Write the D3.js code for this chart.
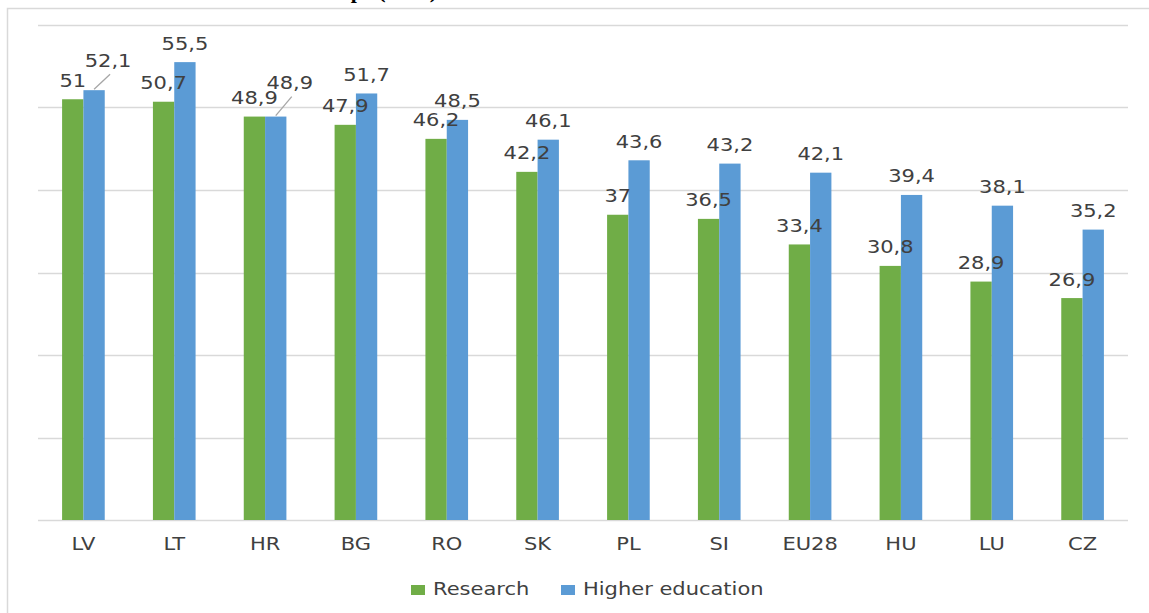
<!DOCTYPE html>
<html>
<head>
<meta charset="utf-8">
<script src="https://cdn.jsdelivr.net/npm/d3@7"></script>
<style>
  body { margin: 0; background: #fff; }
  svg { display: block; }
  text { font-family: "DejaVu Sans", sans-serif; fill: #404040; }
</style>
</head>
<body>
<div id="chart"></div>
<script>
/* Grouped bars: Research vs Higher education, by country */

const categories = ["LV", "LT", "HR", "BG", "RO", "SK", "PL", "SI", "EU28", "HU", "LU", "CZ"];
const research = [51, 50.7, 48.9, 47.9, 46.2, 42.2, 37, 36.5, 33.4, 30.8, 28.9, 26.9];
const higherEd = [52.1, 55.5, 48.9, 51.7, 48.5, 46.1, 43.6, 43.2, 42.1, 39.4, 38.1, 35.2];
const seriesNames = ["Research", "Higher education"];
const yTicks = [0, 10, 20, 30, 40, 50, 60];

const colors = ["#70ad47", "#5b9bd5"];
const sx = 1.2; // source picture is stretched sideways a bit

const width = 1149, height = 613,
      margin = ({top: 25, right: 21, bottom: 93, left: 38});

let svg = d3.select("#chart")
    .append("svg")
    .attr("width", width)
    .attr("height", height);

// chopped-off title above the frame, only descenders peek through
svg.append("text")
    .attr("x", 437)
    .attr("y", -2.5)
    .attr("text-anchor", "end")
    .style("font-family", "'Liberation Serif', serif")
    .style("font-weight", "bold")
    .style("font-size", "22px")
    .style("fill", "#000")
    .text("Women in Europe (2015)");

// frame
svg.append("path")
    .attr("d", `M7.5,${height} V8.5 H${width}`)
    .attr("fill", "none")
    .attr("stroke", "#d9d9d9")
    .attr("stroke-width", 1.5);

let x = d3.scaleBand()
    .domain(categories)
    .range([margin.left, width - margin.right]);

let x1 = d3.scaleBand()
    .domain([0, 1])
    .range([0, x.bandwidth()])
    .paddingInner(0)
    .paddingOuter(1.13);

let y = d3.scaleLinear()
    .domain([0, 60])
    .range([height - margin.bottom, margin.top]);

// gridlines
svg.append("g")
    .selectAll("line")
    .data(yTicks)
    .join("line")
    .attr("x1", margin.left)
    .attr("x2", width - margin.right)
    .attr("y1", d => Math.round(y(d)) + 0.5)
    .attr("y2", d => Math.round(y(d)) + 0.5)
    .attr("stroke", "#d9d9d9")
    .attr("stroke-width", 1.5);

const rows = categories.map((c, i) => [
    {cat: c, s: 0, v: research[i]},
    {cat: c, s: 1, v: higherEd[i]}
]).flat();

const bx = d => x(d.cat) + x1(d.s);

svg.append("g")
    .selectAll("rect")
    .data(rows)
    .join("rect")
    .attr("x", bx)
    .attr("width", x1.bandwidth())
    .attr("y", d => y(d.v))
    .attr("height", d => y(0) - y(d.v))
    .attr("fill", d => colors[d.s]);

// labels that were dragged off their bars (with a leader line)
const nudge = {"LV-1": [14, -11], "HR-1": [14, -15]};

const fmt = v => String(v).replace(".", ",");

let lab = svg.append("g")
    .selectAll("g")
    .data(rows)
    .join("g")
    .attr("transform", d => {
        let n = nudge[d.cat + "-" + d.s] || [0, 0];
        let cx = bx(d) + x1.bandwidth() / 2 + n[0];
        let cy = y(d.v) - 12.5 + n[1];
        return `translate(${cx},${cy}) scale(${sx},1)`;
    });

lab.append("text")
    .attr("text-anchor", "middle")
    .style("font-size", "17.5px")
    .text(d => fmt(d.v));

svg.append("g")
    .selectAll("line")
    .data(rows.filter(d => nudge[d.cat + "-" + d.s]))
    .join("line")
    .attr("x1", d => bx(d) + x1.bandwidth() / 2)
    .attr("y1", d => y(d.v) - 1)
    .attr("x2", d => bx(d) + x1.bandwidth() / 2 + nudge[d.cat + "-" + d.s][0] + 2)
    .attr("y2", d => y(d.v) - 19 + nudge[d.cat + "-" + d.s][1] + 14)
    .attr("stroke", "#a6a6a6")
    .attr("stroke-width", 1.3);

// category axis
svg.append("g")
    .selectAll("text")
    .data(categories)
    .join("text")
    .attr("text-anchor", "middle")
    .attr("transform", d => `translate(${x(d) + x.bandwidth() / 2},550) scale(${sx},1)`)
    .style("font-size", "17.5px")
    .text(d => d);

// legend
const legX = [411, 561];
let leg = svg.append("g")
    .selectAll("g")
    .data(seriesNames)
    .join("g");

leg.append("rect")
    .attr("x", (d, i) => legX[i])
    .attr("y", 585)
    .attr("width", 14)
    .attr("height", 10)
    .attr("fill", (d, i) => colors[i]);

leg.append("text")
    .attr("transform", (d, i) => `translate(${legX[i] + 22},595) scale(${sx},1)`)
    .style("font-size", "17.5px")
    .text(d => d);
</script>
</body>
</html>
